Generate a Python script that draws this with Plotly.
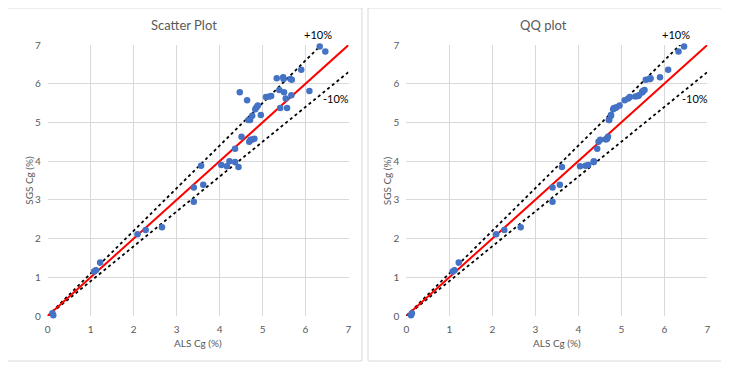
import numpy as np
import plotly.graph_objects as go

# ALS Cg (%) vs SGS Cg (%) paired samples
als_cg = [0.11, 0.13, 1.08, 1.12, 1.22, 2.09, 2.28, 2.66, 3.40, 3.40,
          3.57, 3.62, 4.04, 4.17, 4.23, 4.36, 4.44, 4.36, 4.51, 4.47,
          4.64, 4.67, 4.71, 4.76, 4.69, 4.72, 4.76, 4.81, 4.83, 4.86,
          4.89, 4.96, 5.08, 5.16, 5.20, 5.33, 5.39, 5.41, 5.48, 5.49,
          5.50, 5.54, 5.57, 5.65, 5.68, 5.67, 5.90, 6.09, 6.33, 6.46]
sgs_cg = [0.07, 0.02, 1.15, 1.18, 1.38, 2.11, 2.22, 2.29, 3.32, 2.95,
          3.88, 3.39, 3.90, 3.87, 4.00, 3.98, 3.85, 4.32, 4.63, 5.78,
          5.57, 5.06, 5.06, 5.17, 4.50, 4.55, 4.56, 4.58, 5.34, 5.39,
          5.44, 5.19, 5.66, 5.67, 5.68, 6.14, 5.84, 5.37, 6.17, 6.12,
          5.78, 5.62, 5.37, 6.12, 6.10, 5.70, 6.36, 5.81, 6.96, 6.83]

ref_x = [0, 7]
plus_factor = 1.10
minus_factor = 0.90
ticks = [0, 1, 2, 3, 4, 5, 6, 7]
titles = ["Scatter Plot", "QQ plot"]

OFF = 8  # page body margin
W, H = 729 - OFF, 372 - OFF
def px(x):
    return (x - OFF) / W
def py(y):
    return 1 - (y - OFF) / H

GRAY = "#595959"
GRID = "#D9D9D9"
BLUE = "#4472C4"
FONT = "Lato"
Y_DOM = [py(316), py(45)]

fig = go.Figure()

panels = [
    dict(xdom=[px(47.7), px(348.5)], xs=als_cg, ys=sgs_cg, title_x=184),
    dict(xdom=[px(406.3), px(707.3)], xs=list(np.sort(als_cg)), ys=list(np.sort(sgs_cg)), title_x=543),
]

def to_paper(p, x, y):
    d = p["xdom"]
    return d[0] + (d[1] - d[0]) * x / 7.0, Y_DOM[0] + (Y_DOM[1] - Y_DOM[0]) * y / 7.0

annotations = []
for i, p in enumerate(panels):
    xa = "x" if i == 0 else "x2"
    ya = "y" if i == 0 else "y2"
    rx = np.array(ref_x, dtype=float)
    fig.add_trace(go.Scatter(x=rx, y=rx * plus_factor, mode="lines", xaxis=xa, yaxis=ya,
                             line=dict(color="black", width=1.8, dash="dot"), showlegend=False, hoverinfo="skip"))
    fig.add_trace(go.Scatter(x=rx, y=rx * minus_factor, mode="lines", xaxis=xa, yaxis=ya,
                             line=dict(color="black", width=1.8, dash="dot"), showlegend=False, hoverinfo="skip"))
    fig.add_trace(go.Scatter(x=rx, y=rx, mode="lines", xaxis=xa, yaxis=ya,
                             line=dict(color="#FF0000", width=2), showlegend=False, hoverinfo="skip"))
    fig.add_trace(go.Scatter(x=p["xs"], y=p["ys"], mode="markers", xaxis=xa, yaxis=ya,
                             marker=dict(color=BLUE, size=6.5), cliponaxis=False, showlegend=False))
    annotations.append(dict(text=titles[i], xref="paper", yref="paper", x=px(p["title_x"]), y=py(25),
                            showarrow=False, font=dict(family=FONT, size=13, color=GRAY),
                            xanchor="center", yanchor="middle"))
    ax, ay = to_paper(p, 6.28, 7.27)
    annotations.append(dict(text="+10%", xref="paper", yref="paper", x=ax, y=ay, showarrow=False,
                            font=dict(family=FONT, size=11, color="black"), xanchor="center", yanchor="middle"))
    ax, ay = to_paper(p, 6.71, 5.63)
    annotations.append(dict(text="-10%", xref="paper", yref="paper", x=ax, y=ay, showarrow=False,
                            font=dict(family=FONT, size=11, color="black"), xanchor="center", yanchor="middle"))
    cx = (p["xdom"][0] + p["xdom"][1]) / 2
    annotations.append(dict(text="ALS Cg (%)", xref="paper", yref="paper", x=cx, y=py(343), showarrow=False,
                            font=dict(family=FONT, size=10, color=GRAY), xanchor="center", yanchor="middle"))
    annotations.append(dict(text="SGS Cg (%)", xref="paper", yref="paper", x=p["xdom"][0] - 19.5 / W,
                            y=(Y_DOM[0] + Y_DOM[1]) / 2, showarrow=False, textangle=-90,
                            font=dict(family=FONT, size=10, color=GRAY), xanchor="center", yanchor="middle"))

axis_common = dict(range=[0, 7], tickvals=ticks, showgrid=True, gridcolor=GRID, gridwidth=1,
                   zeroline=False, showline=False, ticks="", automargin=False,
                   tickfont=dict(family=FONT, size=10, color=GRAY), fixedrange=True)

fig.update_layout(
    width=W, height=H, margin=dict(l=0, r=0, t=0, b=0),
    paper_bgcolor="white", plot_bgcolor="white",
    xaxis=dict(domain=panels[0]["xdom"], anchor="y", ticklabelstandoff=6, **axis_common),
    yaxis=dict(domain=Y_DOM, anchor="x", ticklabelstandoff=6, **axis_common),
    xaxis2=dict(domain=panels[1]["xdom"], anchor="y2", ticklabelstandoff=6, **axis_common),
    yaxis2=dict(domain=Y_DOM, anchor="x2", ticklabelstandoff=6, **axis_common),
    annotations=annotations,
    shapes=[
        dict(type="rect", xref="paper", yref="paper", x0=px(7.5), x1=px(362), y0=py(361), y1=py(8),
             line=dict(color=GRID, width=1), fillcolor="rgba(0,0,0,0)", layer="below"),
        dict(type="rect", xref="paper", yref="paper", x0=px(368), x1=px(745), y0=py(361), y1=py(8),
             line=dict(color=GRID, width=1), fillcolor="rgba(0,0,0,0)", layer="below"),
    ],
)

fig.write_html("out.html")
